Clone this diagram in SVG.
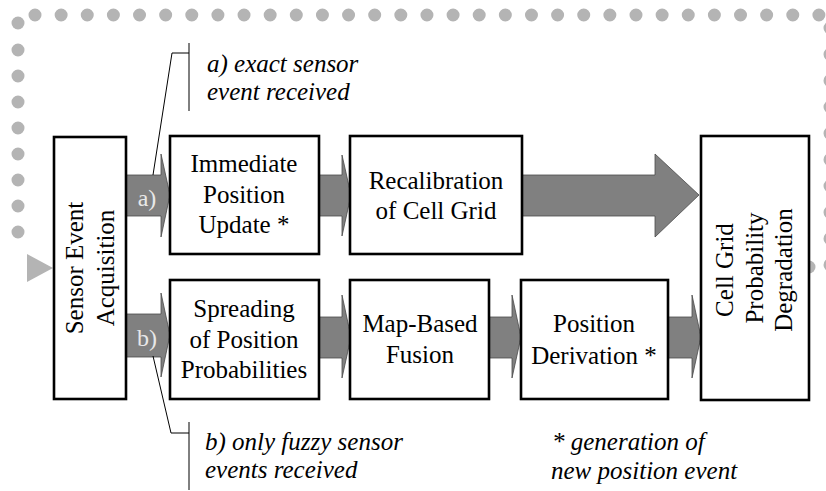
<svg xmlns="http://www.w3.org/2000/svg" width="826" height="491" viewBox="0 0 826 491">
<style>
.box{fill:#fff;stroke:#000;stroke-width:2.6}
.nodelabel{text-anchor:middle}
.notetext{font-style:italic}
.lbl{fill:#e8e8e8;text-anchor:middle}
.arr{fill:#808080;stroke:#4a4a4a;stroke-width:0.8}
.dots{fill:none;stroke:#b4b4b4;stroke-width:13;stroke-linecap:round}
.call{fill:none;stroke:#000;stroke-width:1}
</style>
<rect width="826" height="491" fill="#fff"/>
<g id="loop">
<path class="dots" d="M35 15H819" stroke-dasharray="0 26.13"/>
<path class="dots" d="M18 23V23.01"/>
<path class="dots" d="M18 50V258" stroke-dasharray="0 26"/>
<path class="dots" d="M830 28V265" stroke-dasharray="0 26.33"/>
<circle cx="809" cy="267" r="6.5" fill="#b4b4b4"/>
<polygon points="27,254 53,268 27,282" fill="#b4b4b4"/>
</g>
<g id="connectors">
<polygon class="arr" points="126,175 161,175 161,154 170,195 161,237 161,216 126,216"/>
<polygon class="arr" points="319,175 342,175 342,155 351,195 342,236 342,216 319,216"/>
<polygon class="arr" points="522,175 655,175 655,154 699,195 655,237 655,216 522,216"/>
<polygon class="arr" points="126,314 161,314 161,293 170,335 161,377 161,357 126,357"/>
<polygon class="arr" points="319,317 342,317 342,295 351,337 342,378 342,358 319,358"/>
<polygon class="arr" points="489,317 512,317 512,295 521,337 512,378 512,358 489,358"/>
<polygon class="arr" points="668,317 692,317 692,295 701,337 692,378 692,358 668,358"/>
<text class="lbl" font-size="24" font-family="'Liberation Serif'" x="147" y="206">a)</text>
<text class="lbl" font-size="24" font-family="'Liberation Serif'" x="147" y="346">b)</text>
<polyline class="call" points="153,175 172,53 189,53"/>
<line class="call" x1="189" y1="43" x2="189" y2="111"/>
<polyline class="call" points="153,356 171,433 189,433"/>
<line class="call" x1="189" y1="422" x2="189" y2="490"/>
</g>
<g id="sensor">
<rect class="box" x="54" y="137" width="72" height="262"/>
<text class="nodelabel" font-size="25" font-family="'Liberation Serif'" transform="translate(83,268) rotate(-90)">Sensor Event</text>
<text class="nodelabel" font-size="25" font-family="'Liberation Serif'" transform="translate(114,268) rotate(-90)">Acquisition</text>
</g>
<g id="immediate">
<rect class="box" x="170" y="136" width="149" height="118"/>
<text class="nodelabel" font-size="25" font-family="'Liberation Serif'" x="244" y="172">Immediate</text>
<text class="nodelabel" font-size="25" font-family="'Liberation Serif'" x="244" y="203">Position</text>
<text class="nodelabel" font-size="25" font-family="'Liberation Serif'" x="244" y="233">Update *</text>
</g>
<g id="recalibration">
<rect class="box" x="350" y="136" width="172" height="118"/>
<text class="nodelabel" font-size="25" font-family="'Liberation Serif'" x="436" y="189">Recalibration</text>
<text class="nodelabel" font-size="25" font-family="'Liberation Serif'" x="436" y="219">of Cell Grid</text>
</g>
<g id="cellgrid">
<rect class="box" x="701" y="136" width="108" height="264"/>
<text class="nodelabel" font-size="25" font-family="'Liberation Serif'" transform="translate(733,270) rotate(-90)">Cell Grid</text>
<text class="nodelabel" font-size="25" font-family="'Liberation Serif'" transform="translate(763,268) rotate(-90)">Probability</text>
<text class="nodelabel" font-size="25" font-family="'Liberation Serif'" transform="translate(792,270) rotate(-90)">Degradation</text>
</g>
<g id="spreading">
<rect class="box" x="170" y="280" width="149" height="119"/>
<text class="nodelabel" font-size="25" font-family="'Liberation Serif'" x="244" y="317">Spreading</text>
<text class="nodelabel" font-size="25" font-family="'Liberation Serif'" x="244" y="348">of Position</text>
<text class="nodelabel" font-size="25" font-family="'Liberation Serif'" x="244" y="378">Probabilities</text>
</g>
<g id="fusion">
<rect class="box" x="350" y="280" width="139" height="119"/>
<text class="nodelabel" font-size="25" font-family="'Liberation Serif'" x="420" y="332">Map-Based</text>
<text class="nodelabel" font-size="25" font-family="'Liberation Serif'" x="420" y="363">Fusion</text>
</g>
<g id="derivation">
<rect class="box" x="521" y="280" width="147" height="119"/>
<text class="nodelabel" font-size="25" font-family="'Liberation Serif'" x="594" y="332">Position</text>
<text class="nodelabel" font-size="25" font-family="'Liberation Serif'" x="594" y="364">Derivation *</text>
</g>
<g id="notes">
<text class="notetext" font-size="25" font-family="'Liberation Serif'" x="207" y="72">a) exact sensor</text>
<text class="notetext" font-size="25" font-family="'Liberation Serif'" x="207" y="100">event received</text>
<text class="notetext" font-size="25" font-family="'Liberation Serif'" x="205" y="450">b) only fuzzy sensor</text>
<text class="notetext" font-size="25" font-family="'Liberation Serif'" x="205" y="478">events received</text>
<text class="notetext" font-size="25" font-family="'Liberation Serif'" x="552" y="450">* generation of</text>
<text class="notetext" font-size="25" font-family="'Liberation Serif'" x="551" y="479">new position event</text>
</g>
</svg>
